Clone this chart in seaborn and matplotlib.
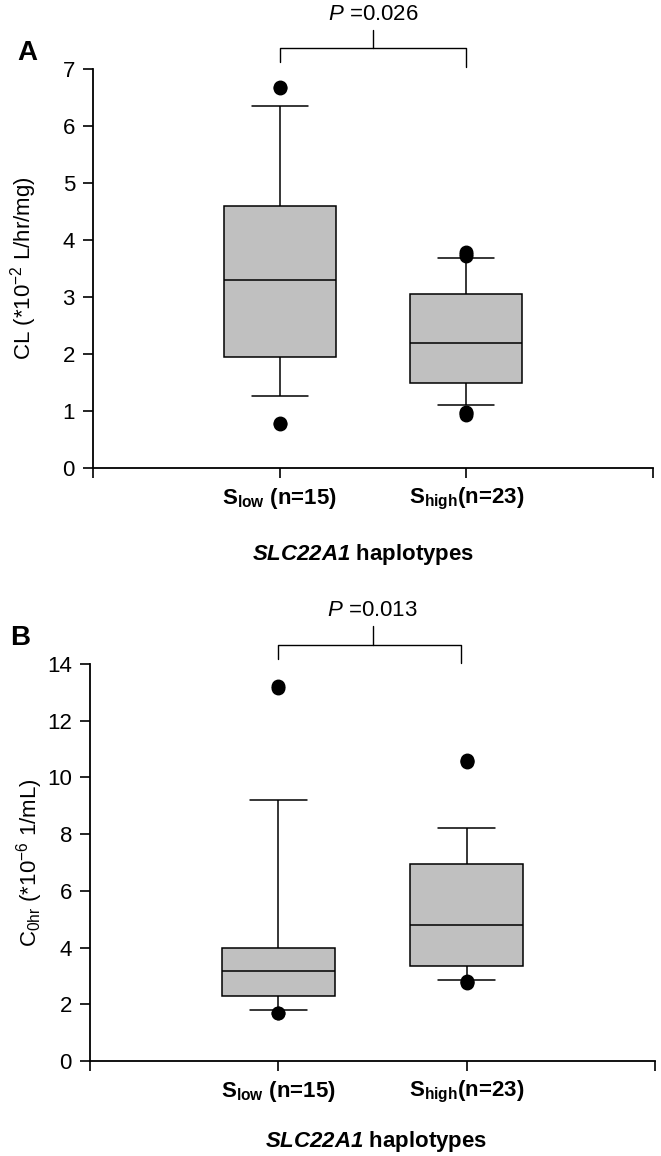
import pandas as pd
import seaborn as sns
import matplotlib.pyplot as plt

# haplotype groups
groups = ['S_low', 'S_high']
tick_labels = [r'$\mathbf{S_{low}}$ (n=15)', r'$\mathbf{S_{high}}$(n=23)']

# panel A: CL (*10^-2 L/hr/mg)
cl_low = [0.78, 0.79, 1.27, 1.70, 2.20, 2.60, 3.00, 3.29, 3.60, 4.10,
          4.40, 4.78, 6.35, 6.66, 6.68]
cl_high = [0.93, 0.96, 0.99, 1.10, 1.30, 1.45, 1.53, 1.70, 1.85, 2.00,
           2.10, 2.19, 2.35, 2.55, 2.75, 2.90, 3.00, 3.12, 3.35, 3.68,
           3.72, 3.76, 3.79]

# panel B: C0hr (*10^-6 1/mL)
c0_low = [1.68, 1.71, 1.79, 2.10, 2.48, 2.80, 3.00, 3.18, 3.40, 3.65,
          3.85, 4.15, 9.22, 13.17, 13.21]
c0_high = [2.76, 2.79, 2.82, 2.86, 3.10, 3.28, 3.42, 3.70, 4.00, 4.30,
           4.55, 4.78, 5.10, 5.50, 5.90, 6.30, 6.80, 7.10, 7.60, 8.21,
           10.54, 10.57, 10.60]

p_values = ['0.026', '0.013']

sns.set_style('ticks')
plt.rcParams['font.family'] = ['Liberation Sans', 'DejaVu Sans']
plt.rcParams['mathtext.fontset'] = 'custom'
plt.rcParams['mathtext.rm'] = 'Liberation Sans'
plt.rcParams['mathtext.it'] = 'Liberation Sans:italic'
plt.rcParams['mathtext.bf'] = 'Liberation Sans:bold'
plt.rcParams['mathtext.bfit'] = 'Liberation Sans:bold:italic'
plt.rcParams['text.color'] = 'black'
plt.rcParams['axes.labelcolor'] = 'black'

fig = plt.figure(figsize=(6.61, 11.56), dpi=100)
axA = fig.add_axes([93/661, 1 - 468/1156, 560/661, 399/1156])
axB = fig.add_axes([90/661, 1 - 1061/1156, 565/661, 397/1156])


def draw_panel(ax, low, high, ylim, ystep, ylabel, pval, br, ylab_x, xlab_xy):
    df = pd.DataFrame({
        'group': [groups[0]] * len(low) + [groups[1]] * len(high),
        'value': low + high,
    })
    sns.boxplot(data=df, x='group', y='value', order=groups, ax=ax,
                color='#c0c0c0', saturation=1, linecolor='black',
                linewidth=1.1, width=0.6, whis=(10, 90), fliersize=9,
                flierprops=dict(marker='o', markerfacecolor='black',
                                markeredgecolor='black'))
    ax.set_xlim(-1, 2)
    ax.set_ylim(*ylim)
    ax.set_xticks([-1, 0, 1, 2])
    ax.set_xticklabels([''] + tick_labels + [''], fontweight='bold',
                       fontsize=16.5)
    ax.set_yticks(range(ylim[0], ylim[1] + 1, ystep))
    ax.tick_params(direction='out', length=7, width=1.2, labelsize=16,
                   colors='black', pad=6)
    sns.despine(ax=ax)
    for s in ['left', 'bottom']:
        ax.spines[s].set_linewidth(1.3)
        ax.spines[s].set_color('black')
    ax.set_ylabel(ylabel, fontsize=16)
    ax.yaxis.set_label_coords(ylab_x, 0.5)
    ax.set_xlabel(r'$\mathbfit{SLC22A1}$ haplotypes', fontsize=16,
                  fontweight='bold')
    ax.xaxis.set_label_coords(*xlab_xy)

    # significance bracket
    lo_l, lo_r, top, stem, txt, xr = br
    ax.plot([0, 0, xr, xr], [lo_l, top, top, lo_r], color='black', lw=1.0,
            clip_on=False)
    ax.plot([0.5, 0.5], [top, stem], color='black', lw=1.0, clip_on=False)
    ax.text(0.5, txt, r'$\mathit{P}$ =' + pval, ha='center', va='center',
            fontsize=16)


draw_panel(axA, cl_low, cl_high, (0, 7), 1,
           r'CL (*10$^{-2}$ L/hr/mg)', p_values[0],
           (7.12, 7.035, 7.37, 7.68, 7.96, 1.0), -0.097, (0.482, -0.185))
draw_panel(axB, c0_low, c0_high, (0, 14), 2,
           r'C$_{\mathrm{0hr}}$ (*10$^{-6}$ 1/mL)', p_values[1],
           (14.16, 14.02, 14.68, 15.33, 15.89, 0.97), -0.08, (0.506, -0.171))

fig.text(27/661, 1 - 53/1156, 'A', fontsize=20, fontweight='bold',
         ha='center', va='center')
fig.text(20/661, 1 - 638/1156, 'B', fontsize=20, fontweight='bold',
         ha='center', va='center')

fig.savefig('out.png', dpi=100)
